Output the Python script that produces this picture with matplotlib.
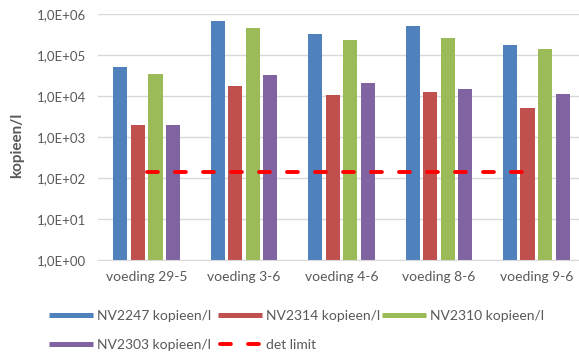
import numpy as np
import matplotlib.pyplot as plt
from matplotlib.lines import Line2D
from matplotlib.ticker import FixedLocator, NullLocator

plt.rcParams["font.family"] = ["Lato", "DejaVu Sans"]

categories = ["voeding 29-5", "voeding 3-6", "voeding 4-6", "voeding 8-6", "voeding 9-6"]
series_names = ["NV2247 kopieen/l", "NV2314 kopieen/l", "NV2310 kopieen/l", "NV2303 kopieen/l"]
nv2247 = [5.1e4, 6.7e5, 3.25e5, 5.1e5, 1.75e5]
nv2314 = [2.0e3, 1.75e4, 1.05e4, 1.25e4, 5.1e3]
nv2310 = [3.4e4, 4.5e5, 2.3e5, 2.6e5, 1.4e5]
nv2303 = [2.0e3, 3.2e4, 2.1e4, 1.5e4, 1.1e4]
det_limit = [140, 140, 140, 140, 140]
ytick_values = [1e0, 1e1, 1e2, 1e3, 1e4, 1e5, 1e6]
ytick_labels = ["1,0E+00", "1,0E+01", "1,0E+02", "1,0E+03", "1,0E+04", "1,0E+05", "1,0E+06"]

colors = ["#4F81BD", "#C0504D", "#9BBB59", "#8064A2"]
text_gray = "#595959"
grid_gray = "#D9D9D9"
W, H = 579, 356

fig = plt.figure(figsize=(W / 100, H / 100), dpi=100)
ax = fig.add_axes([98 / W, 96 / H, 487 / W, 246 / H])

x = np.arange(len(categories))
step, width = 0.18, 0.145
for i, (vals, c) in enumerate(zip([nv2247, nv2314, nv2310, nv2303], colors)):
    ax.bar(x + (i - 1.5) * step, vals, width=width, bottom=1, color=c, zorder=2)

# Excel-like rounded red dashes
lw = 2.8
dash = (2.8, 4.4)
ax.plot(x, det_limit, color="#FF0000", lw=lw, dashes=dash,
        dash_capstyle="round", zorder=3)

ax.set_yscale("log")
ax.set_ylim(1, 1e6)
ax.set_xlim(-0.5, len(categories) - 0.5)
ax.yaxis.set_major_locator(FixedLocator(ytick_values))
ax.yaxis.set_minor_locator(NullLocator())
ax.set_yticklabels(ytick_labels)
ax.set_xticks(x)
ax.set_xticklabels(categories)
ax.tick_params(length=0, labelsize=10, colors=text_gray)
ax.tick_params(axis="y", pad=44, labelsize=9.5)
for lbl in ax.get_yticklabels():
    lbl.set_horizontalalignment("left")
ax.tick_params(axis="x", pad=8)
ax.grid(axis="y", color=grid_gray, lw=1, zorder=0)
for s in ["top", "right", "left"]:
    ax.spines[s].set_visible(False)
ax.spines["bottom"].set_color(grid_gray)

fig.text(17 / W, 1 - 145 / H, "kopieen/l", rotation=90, ha="center", va="center",
         fontsize=11, fontweight="bold", color=text_gray)

# legend laid out by hand, row-major in a 3-column grid like Excel
labels = series_names + ["det limit"]
col_x = [49, 218, 382]
row_y = [315, 344]
for k, lab in enumerate(labels):
    px = col_x[k % 3]
    py = 1 - row_y[k // 3] / H
    if k < 4:
        h = Line2D([px / W, (px + 44) / W], [py, py], color=colors[k], lw=3.6,
                   solid_capstyle="butt", transform=fig.transFigure)
    else:
        h = Line2D([(px + 2) / W, (px + 42) / W], [py, py], color="#FF0000", lw=lw,
                   dashes=dash, dash_capstyle="round", transform=fig.transFigure)
    fig.add_artist(h)
    fig.text((px + 48) / W, py, lab, ha="left", va="center_baseline",
             fontsize=10, color=text_gray)

fig.savefig("out.png", dpi=100)
